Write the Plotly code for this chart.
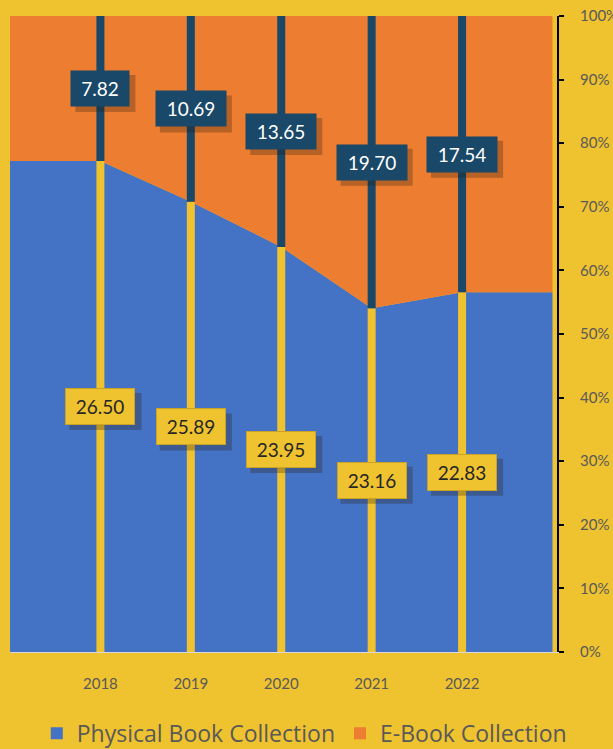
import numpy as np
import plotly.graph_objects as go

years = [2018, 2019, 2020, 2021, 2022]
tick_labels = ["2018", "2019", "2020", "2021", "2022"]
physical = [26.50, 25.89, 23.95, 23.16, 22.83]
ebook = [7.82, 10.69, 13.65, 19.70, 17.54]
series_names = ["Physical Book Collection", "E-Book Collection"]

BG = "#EFC22F"
BLUE = "#4472C4"
ORANGE = "#ED7D31"
NAVY = "#1A4868"
FONT = "Lato"

phys = np.array(physical)
ebk = np.array(ebook)
phys_pct = phys / (phys + ebk) * 100

# area extends flat beyond first/last category
x_ext = [years[0] - 1] + years + [years[-1] + 1]
phys_ext = [physical[0]] + physical + [physical[-1]]
ebook_ext = [ebook[0]] + ebook + [ebook[-1]]

fig = go.Figure()
fig.add_trace(go.Scatter(x=x_ext, y=phys_ext, stackgroup="one", groupnorm="percent",
                         mode="none", fillcolor=BLUE, showlegend=False, hoverinfo="skip"))
fig.add_trace(go.Scatter(x=x_ext, y=ebook_ext, stackgroup="one",
                         mode="none", fillcolor=ORANGE, showlegend=False, hoverinfo="skip"))

# vertical drop lines
lx_y, ly_y, lx_n, ly_n = [], [], [], []
for yr, p in zip(years, phys_pct):
    lx_y += [yr, yr, None]
    ly_y += [0, p, None]
    lx_n += [yr, yr, None]
    ly_n += [p, 100, None]
fig.add_trace(go.Scatter(x=lx_y, y=ly_y, mode="lines", line=dict(color=BG, width=8),
                         showlegend=False, hoverinfo="skip"))
fig.add_trace(go.Scatter(x=lx_n, y=ly_n, mode="lines", line=dict(color=NAVY, width=8),
                         showlegend=False, hoverinfo="skip"))

# legend entries
fig.add_trace(go.Scatter(x=[None], y=[None], mode="markers", name=series_names[0],
                         marker=dict(symbol="square", size=15, color=BLUE)))
fig.add_trace(go.Scatter(x=[None], y=[None], mode="markers", name=series_names[1],
                         marker=dict(symbol="square", size=15, color=ORANGE)))

anns = []
shapes = []
FS = 19
PAD = 6
for yr, p, pv, ev in zip(years, phys_pct, physical, ebook):
    yo = (p + 100) / 2
    yb = p / 2
    for val, yc in ((ev, yo), (pv, yb)):
        txt = f"{val:.2f}"
        w = 12 * len(txt) - 2 + 2 * PAD
        h = 35
        shapes.append(dict(type="rect", xref="x", yref="y", xsizemode="pixel", ysizemode="pixel",
                           xanchor=yr, yanchor=yc,
                           x0=-w / 2 + 4, x1=w / 2 + 6, y0=-h / 2 - 6, y1=h / 2 - 4,
                           fillcolor="rgba(40,25,10,0.28)", line=dict(width=0), layer="above"))
    anns.append(dict(x=yr, y=yo, text=f"{ev:.2f}", showarrow=False,
                     width=12 * len(f"{ev:.2f}") - 2,
                     font=dict(family=FONT, size=FS, color="white"),
                     bgcolor=NAVY, borderpad=PAD))
    anns.append(dict(x=yr, y=yb, text=f"{pv:.2f}", showarrow=False,
                     width=12 * len(f"{pv:.2f}") - 4,
                     font=dict(family=FONT, size=FS, color="#262626"),
                     bgcolor=BG, bordercolor="#C9A227", borderwidth=1, borderpad=PAD))

fig.update_layout(
    width=613, height=749,
    paper_bgcolor=BG, plot_bgcolor=BG,
    margin=dict(l=10, r=56, t=16, b=97, autoexpand=False),
    font=dict(family=FONT, color="#595959"),
    annotations=anns,
    shapes=shapes,
    legend=dict(orientation="h", x=0.538, xanchor="center", y=-0.128, yanchor="middle",
                traceorder="normal",
                font=dict(family="Open Sans", size=23, color="#595959"), itemsizing="constant",
                bgcolor="rgba(0,0,0,0)"),
    showlegend=True,
)
fig.update_xaxes(range=[years[0] - 1, years[-1] + 1.05], tickvals=years, ticktext=tick_labels,
                 showgrid=False, zeroline=False, showline=True, linecolor="#D9D9D9", linewidth=1,
                 ticks="", tickfont=dict(family=FONT, size=15, color="#595959"),
                 ticklabelstandoff=18, automargin=False)
fig.update_yaxes(range=[0, 100], dtick=10, ticksuffix="%", side="right",
                 showgrid=False, zeroline=False, showline=True, linecolor="black", linewidth=2,
                 ticks="outside", ticklen=5, tickcolor="black", tickwidth=1.5,
                 tickfont=dict(family=FONT, size=15, color="#595959"), ticklabelstandoff=13,
                 automargin=False)

fig.write_html("out.html", config={"displayModeBar": False},
               post_script="document.body.style.margin='0';document.body.style.background='#EFC22F';")
